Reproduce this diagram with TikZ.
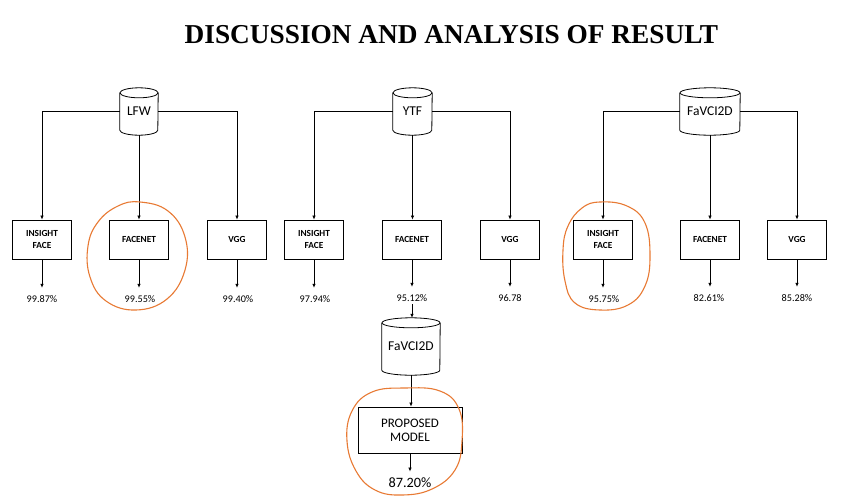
\documentclass[tikz,border=0pt]{standalone}
\usepackage{fontspec}
\setmainfont{Carlito}
\newfontfamily\titlefont{Liberation Serif}
\usetikzlibrary{arrows.meta}
\definecolor{loopcol}{RGB}{232,122,52}
\newcommand\cyldraw[2]{%
  \draw[line width=0.8pt] ([yshift=-5pt]#1.north west) -- ([yshift=5pt]#1.south west)
    arc[start angle=180,end angle=360,x radius=#2pt,y radius=5pt] -- ([yshift=-5pt]#1.north east);
  \draw[line width=0.8pt] ([yshift=-5pt]#1.north) ellipse [x radius=#2pt, y radius=5pt];}
\begin{document}
\begin{tikzpicture}[x=1pt,y=-1pt,
  model/.style={draw, line width=0.8pt, minimum width=59pt, minimum height=39pt, inner sep=1pt, align=center, font=\fontsize{9.3}{11.7}\selectfont\bfseries},
  dbase/.style={inner sep=0pt, font=\fontsize{13.5}{15}\selectfont},
  pct/.style={inner sep=1pt, font=\fontsize{10.2}{12}\selectfont, text height=7pt, text depth=0pt},
  conn/.style={line width=0.7pt, -{Latex[length=4pt,width=3.5pt]}},
  loopline/.style={draw=loopcol, line width=1.1pt}]
\useasboundingbox (0,0) rectangle (854,501);
\fill[white] (0,0) rectangle (854,501);
\node[anchor=base, font=\titlefont\fontsize{27.3}{30}\selectfont\bfseries] (title) at (451.5,43.5) {DISCUSSION AND ANALYSIS OF RESULT};

% databases
\node[dbase, minimum width=38pt, minimum height=47pt] (lfw) at (139,111.5) {LFW};
\node[dbase, minimum width=39pt, minimum height=47pt] (ytf) at (412.5,111.5) {YTF};
\node[dbase, minimum width=60pt, minimum height=47pt] (fav) at (710,111.5) {FaVCI2D};
\cyldraw{lfw}{19}
\cyldraw{ytf}{19.5}
\cyldraw{fav}{30}

% model boxes
\node[model] (lfwA) at (42,239.5) {INSIGHT\\FACE};
\node[model] (lfwB) at (139,239.5) {FACENET};
\node[model] (lfwC) at (237,239.5) {VGG};
\node[model] (ytfA) at (314,239.5) {INSIGHT\\FACE};
\node[model] (ytfB) at (412,239.5) {FACENET};
\node[model] (ytfC) at (510,239.5) {VGG};
\node[model] (favA) at (603,239.5) {INSIGHT\\FACE};
\node[model] (favB) at (710,239.5) {FACENET};
\node[model] (favC) at (797,239.5) {VGG};

% labels
\node[pct] (lfwAl) at (42,298.5) {99.87\%};
\node[pct] (lfwBl) at (140,298.5) {99.55\%};
\node[pct] (lfwCl) at (238,298.5) {99.40\%};
\node[pct] (ytfAl) at (315,298.5) {97.94\%};
\node[pct] (ytfBl) at (412,297.5) {95.12\%};
\node[pct] (ytfCl) at (510,297.5) {96.78};
\node[pct] (favAl) at (604,298.5) {95.75\%};
\node[pct] (favBl) at (709,297.5) {82.61\%};
\node[pct] (favCl) at (797,297.5) {85.28\%};

% connectors from databases
\draw[conn] (lfw.west) -| (lfwA.north);
\draw[conn] (lfw.south) -- (lfwB.north);
\draw[conn] (lfw.east) -| (lfwC.north);
\draw[conn] (ytf.west) -| (ytfA.north);
\draw[conn] (ytf.south) -- (ytf.south |- ytfB.north);
\draw[conn] (ytf.east) -| (ytfC.north);
\draw[conn] (fav.west) -| (favA.north);
\draw[conn] (fav.south) -- (favB.north);
\draw[conn] (fav.east) -| (favC.north);

% connectors to labels
\foreach \b in {lfwA,lfwB,lfwC,ytfA,ytfB,ytfC,favA,favB,favC}{
  \draw[conn, shorten >=6pt] (\b.south) -- (\b.south |- \b l.north);
}

% bottom stack
\node[dbase, minimum width=58pt, minimum height=57pt] (fav2) at (411,346.5) {FaVCI2D};
\cyldraw{fav2}{29}
\node[draw, line width=0.8pt, minimum width=104pt, minimum height=46pt, align=center, inner sep=1pt, font=\fontsize{13}{14}\selectfont] (prop) at (410,430) {PROPOSED\\MODEL};
\node[inner sep=1pt, font=\fontsize{14.3}{15}\selectfont, text height=9.5pt, text depth=0pt] (propl) at (410,482.5) {87.20\%};
\draw[conn, shorten <=2pt] (ytfBl.south) -- (ytfBl.south |- fav2.north);
\draw[conn] (fav2.south) -- (fav2.south |- prop.north);
\draw[conn, shorten >=5pt] (prop.south) -- (propl.north);

% hand-drawn highlight loops
\draw[loopline] plot[smooth cycle, tension=0.7] coordinates {(140,202) (168,211) (185,237) (185,270) (167,299) (136,310) (106,301) (90,277) (88,246) (98,222) (118,206)};
\draw[loopline] plot[smooth cycle, tension=0.7] coordinates {(600,202) (627,206) (645,223) (650,256) (645,286) (628,305) (600,310) (575,303) (565,281) (563,250) (568,226) (582,208)};
\draw[loopline] plot[smooth cycle, tension=0.7] coordinates {(405,388) (440,391) (459,409) (462,441) (455,470) (432,489) (402,495) (375,490) (356,471) (347,441) (352,411) (372,392)};
\end{tikzpicture}
\end{document}
